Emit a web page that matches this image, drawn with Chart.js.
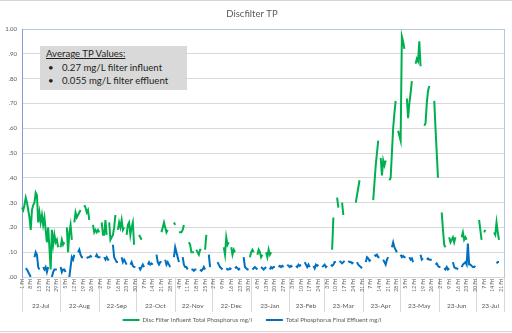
<!DOCTYPE html>
<html>
<head>
<meta charset="utf-8">
<script src="https://cdn.jsdelivr.net/npm/chart.js@4.4.0/dist/chart.umd.min.js"></script>
<style>
  html, body { margin: 0; padding: 0; background: #fff; }
  #wrap { position: relative; width: 512px; height: 333px; overflow: hidden; }
  .edge { position: absolute; left: 0; width: 512px; height: 1px; background: #d6d6d6; }
  #note {
    position: absolute; left: 40px; top: 46px; width: 147px; height: 44px;
    background: #d9d9d9; color: #1e1e1e; font-family: Lato, sans-serif; font-size: 9.6px;
    line-height: 13.5px; padding-top: 1px; box-sizing: border-box;
  }
  #note div { white-space: nowrap; }
  #note .head { padding-left: 6px; text-decoration: underline; }
  #note .item { padding-left: 8px; }
  #note .item span { display: inline-block; width: 14px; }
</style>
</head>
<body>
<div id="wrap">
  <canvas id="chart" width="512" height="333"></canvas>
  <div class="edge" style="top:0"></div>
  <div class="edge" style="top:331px"></div>
  <div id="note">
    <div class="head">Average TP Values:</div>
    <div class="item"><span>•</span>0.27 mg/L filter influent</div>
    <div class="item"><span>•</span>0.055 mg/L filter effluent</div>
  </div>
</div>
<script>
const _ = null;

// one entry per day, 1 Jul 2022 .. 23 Jul 2023, each row is one week starting on a Friday
const START_DATE = Date.UTC(2022, 6, 1);
const DAY_COUNT = 388;

const MONTH_LABELS = ['22-Jul', '22-Aug', '22-Sep', '22-Oct', '22-Nov', '22-Dec',
  '23-Jan', '23-Feb', '23-Mar', '23-Apr', '23-May', '23-Jun', '23-Jul'];

const INFLUENT_TP = [
  .28, .27, .29, .32, .30, .27, .24,
  .19, .27, .29, .30, .34, .33, .22,
  .26, .22, .25, .21, .24, .19, .14,
  .20, .12, .03, .19, .13, .17, .14,
  .15, .12, _, .12, .15, .13, .14,
  _, .20, .10, .18, .21, .15, _,
  .22, .26, .24, .25, .26, .27, _,
  _, .29, .28, .26, .27, .23, _,
  _, .21, .18, .19, .18, .19, .18,
  _, .22, .17, .17, .23, .17, _,
  .22, .15, .16, .17, .20, .25, _,
  .19, .22, .20, .23, .19, .20, _,
  .17, .21, .22, .17, .20, .22, .13,
  _, _, _, .17, .16, .15, _,
  _, _, _, _, _, _, _,
  _, _, _, _, _, _, _,
  .18, .20, .22, .20, .18, .19, _,
  _, _, _, .22, .21, _, _,
  .18, .18, .18, .19, .21, _, _,
  _, .14, .13, .10, .10, .10, _,
  .11, .10, .09, .11, .11, _, _,
  .11, .17, _, _, _, _, _,
  _, _, _, _, _, _, _,
  _, .12, .09, .16, .13, .14, _,
  .12, .09, .11, .10, _, _, _,
  _, _, _, _, _, _, _,
  _, .08, .10, .11, .10, _, _,
  .09, .11, .10, .08, .09, _, _,
  .10, .08, .11, .09, .10, _, _,
  _, _, _, _, _, _, _,
  _, _, _, _, _, _, _,
  _, _, _, _, _, _, _,
  _, _, _, _, _, _, _,
  _, _, _, _, _, _, _,
  _, _, _, _, _, _, _,
  _, _, _, _, .11, .24, _,
  _, .32, .28, _, _, .30, .25,
  _, _, _, _, _, _, _,
  _, _, .30, .33, .36, .39, _,
  _, _, _, _, _, _, _,
  _, _, .31, .38, .45, .50, .55,
  _, .48, .41, .47, .45, .47, _,
  _, .39, .40, .50, .60, .66, .71,
  _, .59, .57, .55, .97, .95, .92,
  _, .72, .64, .70, .74, .79, _,
  _, .86, .88, .87, .95, .85, _,
  _, .61, .62, .70, .75, .77, _,
  _, _, .71, .60, .50, .40, _,
  _, .26, .19, .13, .12, _, _,
  .16, .14, .15, .16, .14, .16, _,
  .17, _, _, .16, .18, .15, .16,
  .15, _, _, _, _, _, _,
  _, _, _, .23, .19, .15, _,
  .18, .19, _, _, _, _, _,
  _, .18, .17, .22, .18, .15, _,
  _, _, _
];

const EFFLUENT_TP = [
  .035, _, _, .035, .03, .02, .01,
  .00, _, _, .08, .10, .09, .04,
  .03, _, _, .04, .03, .04, .02,
  .04, _, _, .00, .02, .03, .03,
  .03, _, _, .04, .02, .03, .03,
  .02, _, _, .00, .04, .08, .07,
  .09, _, _, .10, .11, .09, .08,
  .08, _, _, .075, .08, .08, .085,
  .08, _, _, .08, .09, .08, .08,
  .08, _, _, .08, .07, .08, .07,
  .07, _, _, .13, .08, .07, .06,
  .06, _, _, .08, .06, .07, .06,
  .05, _, _, .05, .06, .045, .04,
  .04, _, _, .04, .03, .04, .05,
  .04, _, _, .05, .06, .05, .055,
  .05, _, _, .09, .06, .05, .06,
  .06, _, _, .07, .05, .06, .05,
  .04, _, _, .08, .12, .10, .08,
  .06, _, _, .08, .05, .04, .04,
  .03, _, _, .03, .03, .025, .03,
  .03, _, _, .03, .025, .03, .04,
  .03, _, _, .09, .04, _, _,
  _, _, _, .06, .05, .04, .035,
  .03, _, _, .035, .03, .03, .035,
  .03, _, _, .035, .04, .035, .03,
  .035, _, _, .08, .04, .035, .03,
  .03, _, _, .03, .035, .04, .035,
  .03, _, _, .04, .035, .03, .035,
  .04, _, _, .03, .04, .035, .04,
  .04, _, _, .04, .045, .04, .045,
  .04, _, _, .05, .045, .04, .045,
  .04, _, _, .045, .04, .05, .045,
  .05, _, _, .06, .05, .04, .05,
  .04, _, _, .045, .035, .05, .045,
  .05, _, _, .04, .045, .05, .04,
  .045, _, _, .05, .045, .05, .06,
  .06, _, _, .065, .06, .055, .06,
  .065, _, _, .065, .06, .06, .055,
  .06, _, _, .06, .05, .045, .04,
  .035, _, _, .06, .08, .075, .065,
  .07, _, _, .09, .085, .09, .08,
  .08, _, _, .07, .06, .05, .07,
  .08, _, _, .12, .14, .12, .11,
  .10, _, _, .09, .08, .085, .08,
  .08, _, _, .08, .07, .075, .06,
  _, _, _, _, _, .09, .07,
  .075, _, _, .07, .075, .07, .07,
  .07, _, _, .05, .055, .045, .04,
  .04, _, _, .035, .03, .04, .03,
  .035, _, _, .06, .04, .035, .035,
  .03, _, _, .04, .05, .055, .06,
  .05, .135, .05, .05, .045, .04, .04,
  .045, _, _, .045, _, .04, _,
  .04, _, .035, _, _, _, _,
  .06, _, _, .055, .06, .06, _,
  _, _, _
];

const days = [];
for (let i = 0; i < DAY_COUNT; i++) days.push(new Date(START_DATE + i * 864e5));
const labels = days.map(d => d.toISOString().slice(0, 10));

// month separators and the label in the middle of each month
const monthEdges = new Set([0, DAY_COUNT - 1]);
const monthText = {};
let monthFrom = 0, monthNo = 0;
for (let i = 1; i <= DAY_COUNT; i++) {
  if (i === DAY_COUNT || days[i].getUTCDate() === 1) {
    monthText[Math.floor((monthFrom + i - 1) / 2)] = MONTH_LABELS[monthNo++];
    if (i < DAY_COUNT) monthEdges.add(i);
    monthFrom = i;
  }
}

Chart.defaults.font.family = 'Lato, sans-serif';
Chart.defaults.color = '#595959';

const ctx = document.getElementById('chart').getContext('2d');
new Chart(ctx, {
  type: 'line',
  data: {
    labels: labels,
    datasets: [
      {
        label: 'Disc Filter Influent Total Phosphorus mg/l',
        data: INFLUENT_TP,
        borderColor: '#00b050',
        backgroundColor: '#00b050',
        borderWidth: 2,
        pointRadius: 0,
        tension: 0,
        spanGaps: false,
        order: 1
      },
      {
        label: 'Total Phosphorus Final Effluent mg/l',
        data: EFFLUENT_TP,
        borderColor: '#0070c0',
        backgroundColor: '#0070c0',
        borderWidth: 2,
        pointRadius: 0,
        tension: 0,
        spanGaps: false,
        order: 0
      }
    ]
  },
  options: {
    responsive: false,
    animation: false,
    layout: { padding: { left: 0, right: 8, top: 0, bottom: 0 } },
    plugins: {
      title: {
        display: true,
        text: 'Discfilter TP',
        color: '#595959',
        font: { size: 9.5, weight: 'normal' },
        padding: { top: 8, bottom: 9.6 }
      },
      legend: {
        position: 'bottom',
        labels: {
          boxWidth: 17,
          boxHeight: 2,
          padding: 5,
          font: { size: 6 },
          color: '#595959',
          generateLabels: chart => chart.data.datasets.map((ds, i) => ({
            text: ds.label + (i === 0 ? '\u2003\u2003' : ''),
            fillStyle: ds.borderColor,
            strokeStyle: ds.borderColor,
            lineWidth: 0,
            hidden: false,
            datasetIndex: i,
            fontColor: '#595959'
          }))
        }
      },
      tooltip: { enabled: false }
    },
    scales: {
      x: {
        type: 'category',
        position: 'bottom',
        weight: 0,
        grid: {
          drawOnChartArea: false,
          drawTicks: true,
          tickLength: 35,
          color: c => monthEdges.has(c.index) ? '#d9d9d9' : 'rgba(0,0,0,0)'
        },
        border: { color: '#d9d9d9' },
        ticks: {
          autoSkip: false,
          minRotation: 90,
          maxRotation: 90,
          padding: -33,
          font: { size: 5 },
          color: '#595959',
          callback: (v, i) => days[i].getUTCDay() === 5 ? days[i].getUTCDate() + ' Fri' : ''
        },
        afterFit: s => { s.height = 20; }
      },
      xm: {
        type: 'category',
        position: 'bottom',
        weight: 1,
        grid: { display: false, drawTicks: false, tickLength: 0 },
        border: { display: false },
        ticks: {
          autoSkip: false,
          minRotation: 0,
          maxRotation: 0,
          padding: 5,
          font: { size: 6.5 },
          color: '#595959',
          callback: (v, i) => monthText[i] || ''
        },
        afterFit: s => { s.height = 15; }
      },
      xt: {
        type: 'linear',
        position: 'top',
        ticks: { display: false },
        grid: { drawOnChartArea: false, drawTicks: false, tickLength: 0 },
        border: { color: '#b4c7e7' },
        afterFit: s => { s.height = 0; }
      },
      y: {
        min: 0,
        max: 1,
        ticks: {
          stepSize: 0.1,
          padding: 5,
          font: { size: 6 },
          color: '#595959',
          callback: v => v >= 1 ? '1.00' : v.toFixed(2).slice(1)
        },
        grid: { color: '#d9d9d9', drawTicks: false, tickLength: 0 },
        border: { color: '#7f9fd6' },
        afterFit: s => { s.width = 22; }
      },
      yr: {
        type: 'linear',
        position: 'right',
        ticks: { display: false },
        grid: { drawOnChartArea: false, drawTicks: false, tickLength: 0 },
        border: { color: '#b4c7e7' },
        afterFit: s => { s.width = 0; }
      }
    }
  }
});
</script>
</body>
</html>
